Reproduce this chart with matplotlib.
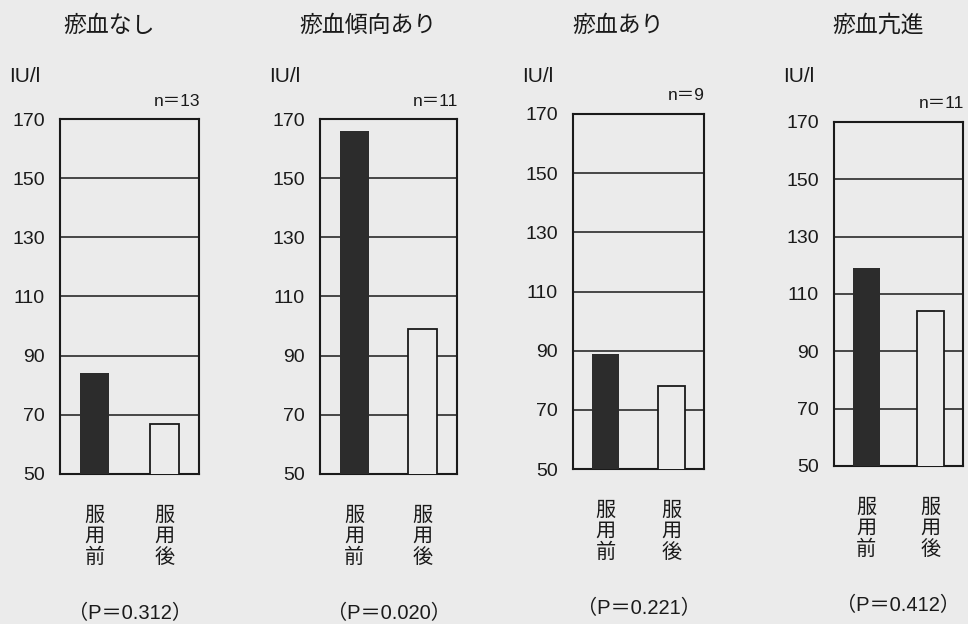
import matplotlib.pyplot as plt

plt.rcParams['font.family'] = ['Liberation Sans', 'Noto Sans CJK JP']

# data
titles = ['瘀血なし', '瘀血傾向あり', '瘀血あり', '瘀血亢進']
n_labels = ['n＝13', 'n＝11', 'n＝9', 'n＝11']
p_labels = ['（P＝0.312）', '（P＝0.020）', '（P＝0.221）', '（P＝0.412）']
before = [84, 166, 89, 119]
after = [67, 99, 78, 104]
x_labels = ['服\n用\n前', '服\n用\n後']
y_ticks = [50, 70, 90, 110, 130, 150, 170]
unit = 'IU/l'

W, H = 968, 624
# panel boxes in pixels: left, right, top, bottom
boxes = [(60, 199, 119, 474), (320, 457, 119, 474),
         (573, 704, 114, 469), (834, 963, 122, 466)]
BG = '#ebebeb'
INK = '#1a1a1a'
DARK = '#2c2c2c'
CJK = 'Noto Sans CJK JP'

fig = plt.figure(figsize=(W / 100, H / 100), dpi=100, facecolor=BG)

for i, (l, r, t, b) in enumerate(boxes):
    ax = fig.add_axes([l / W, 1 - b / H, (r - l) / W, (b - t) / H])
    ax.set_facecolor(BG)
    ax.bar(1.2, before[i], width=1.0, color=DARK, zorder=3)
    ax.bar(3.6, after[i], width=1.0, color=BG, edgecolor=INK, linewidth=1.3, zorder=3)
    ax.set_xlim(0, 4.8)
    ax.set_ylim(50, 170)
    ax.set_yticks(y_ticks)
    ax.yaxis.grid(True, color=INK, linewidth=1.1)
    ax.set_axisbelow(True)
    for s in ax.spines.values():
        s.set_color(INK)
        s.set_linewidth(1.5)
    ax.tick_params(axis='y', length=0, pad=11, labelsize=14, labelcolor=INK)
    ax.set_xticks([1.2, 3.6])
    ax.set_xticklabels(x_labels, fontsize=14.5, family=CJK, linespacing=1.0, color=INK)
    ax.tick_params(axis='x', length=0, pad=22)

    cx = (l + r) / 2 - 20
    fig.text(cx / W, 1 - 25 / H, titles[i], ha='center', va='center',
             fontsize=16.5, family=CJK, color=INK)
    fig.text((l - 51) / W, 1 - 77 / H, unit, ha='left', va='center',
             fontsize=15, color=INK)
    ax.annotate(n_labels[i], xy=(1, 1), xycoords='axes fraction', xytext=(1, 18),
                textcoords='offset pixels', ha='right', va='center',
                fontsize=12.5, color=INK)
    ax.annotate(p_labels[i], xy=(0.5, 0), xycoords='axes fraction', xytext=(0, -139),
                textcoords='offset pixels', ha='center', va='center',
                fontsize=14.5, color=INK)

fig.savefig('out.png', dpi=100, facecolor=BG)
